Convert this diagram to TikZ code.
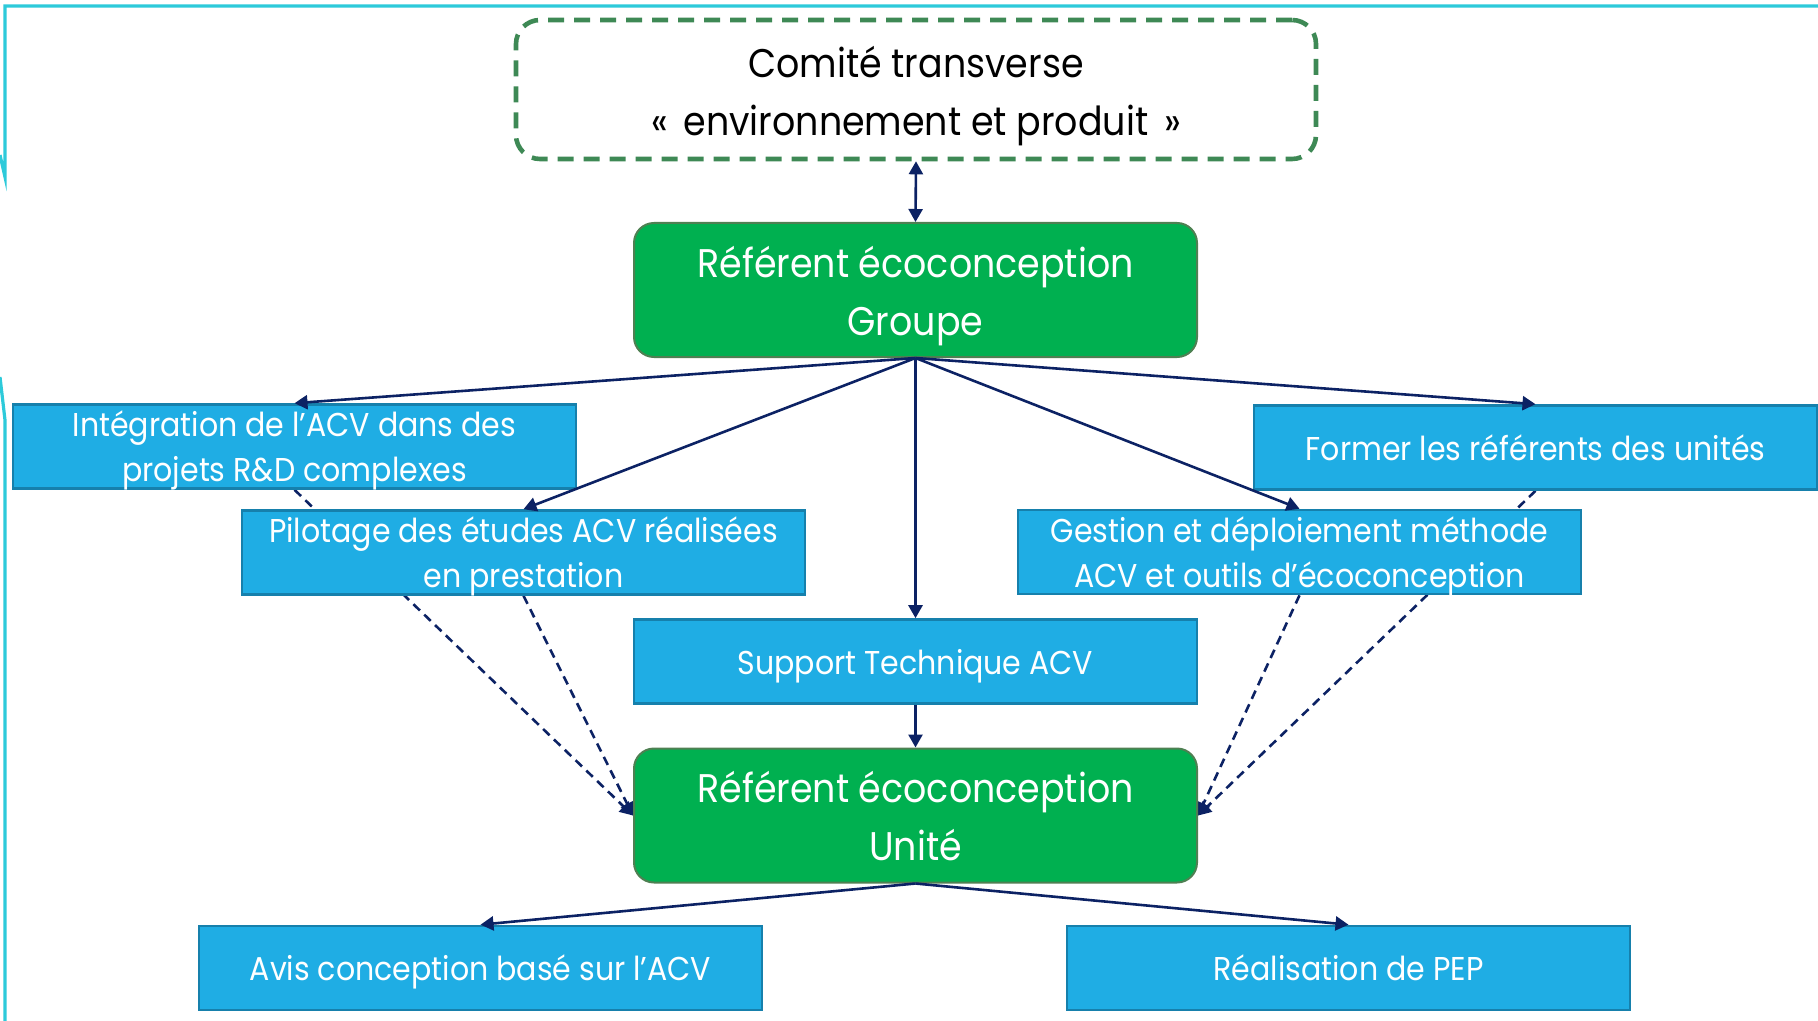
\documentclass[tikz,border=0pt]{standalone}
\usepackage{fontspec}
\setmainfont{Poppins}[FakeStretch=0.91]
\usetikzlibrary{arrows.meta}

\definecolor{framecyan}{RGB}{45,202,218}
\definecolor{navy}{RGB}{12,34,100}
\definecolor{boxblue}{RGB}{31,173,228}
\definecolor{boxblueline}{RGB}{22,128,172}
\definecolor{refgreen}{RGB}{0,176,80}
\definecolor{refgreenline}{RGB}{78,128,82}
\definecolor{comitegreen}{RGB}{62,137,85}

% line struts fixing where the text sits inside each box
\newcommand{\strutblue}{\rule[-5pt]{0pt}{22.5pt}}
\newcommand{\strutgreen}{\rule[-6.4pt]{0pt}{29pt}}
\newcommand{\strutcomite}{\rule[-5.8pt]{0pt}{28.8pt}}

\pgfdeclarelayer{bg}
\pgfsetlayers{bg,main}

\tikzset{
  bluebox/.style={rectangle, draw=boxblueline, line width=1.3pt, fill=boxblue,
    text=white, minimum width=281.5pt, minimum height=42pt, inner xsep=0pt,
    inner ysep=-3pt, align=center, font=\fontsize{16.5}{22.5}\selectfont},
  greenbox/.style={rectangle, rounded corners=10pt, draw=refgreenline, line width=1pt,
    fill=refgreen, text=white, minimum width=281.5pt, minimum height=67pt,
    inner sep=0pt, align=center, font=\fontsize{20}{29}\selectfont},
  dashbox/.style={rectangle, rounded corners=12pt, draw=comitegreen, line width=2.3pt,
    dash pattern=on 8pt off 5pt, minimum width=400pt, minimum height=69.5pt,
    inner sep=0pt, align=center, text=black, font=\fontsize{20}{29}\selectfont},
  link/.style={draw=navy, line width=1.3pt, -{Triangle[length=6.5pt,width=7pt]}},
  duallink/.style={draw=navy, line width=1.3pt,
    {Triangle[length=6.5pt,width=7pt]}-{Triangle[length=6.5pt,width=7pt]}},
  dashlink/.style={draw=navy, line width=1.3pt, dash pattern=on 4.5pt off 3pt,
    -{Triangle[length=6.5pt,width=7pt]}},
  frameline/.style={draw=framecyan, line width=1.6pt}
}

\begin{document}
\begin{tikzpicture}[x=0.5pt,y=-0.5pt]
\useasboundingbox (0,0) rectangle (1818,1021);

% slide frame
\draw[frameline] (0,155) -- (5,177) -- (5,6) -- (1818,6);
\draw[frameline] (0,377) -- (5,420) -- (5,1021);

% boxes
\node[dashbox] (comite) at (916,89.5)
  {\strutcomite Comité transverse\\\strutcomite«\hspace{3pt} environnement et produit \hspace{3pt}»};
\node[greenbox] (groupe) at (915.5,290)
  {\strutgreen Référent écoconception\\\strutgreen Groupe};
\node[bluebox] (integ) at (294.5,446.5)
  {\strutblue Intégration de l’ACV dans des\\\strutblue projets R\&D complexes};
\node[bluebox] (pilot) at (523.5,552.5)
  {\strutblue Pilotage des études ACV réalisées\\\strutblue en prestation};
\node[bluebox] (former) at (1535.5,447.5)
  {\strutblue Former les référents des unités};
\node[bluebox] (gestion) at (1299.5,552)
  {\strutblue Gestion et déploiement méthode\\\strutblue ACV et outils d’écoconception};
\node[bluebox] (support) at (915.5,661.5)
  {\strutblue Support Technique ACV};
\node[greenbox] (unite) at (915.5,815.5)
  {\strutgreen Référent écoconception\\\strutgreen Unité};
\node[bluebox] (avis) at (480.5,968)
  {\strutblue Avis conception basé sur l’ACV};
\node[bluebox] (pep) at (1348.5,968)
  {\strutblue Réalisation de PEP};

% solid links
\draw[duallink] (comite.south) -- (groupe.north);
\draw[link] (groupe.south) -- (integ.north);
\draw[link] (groupe.south) -- (pilot.north);
\draw[link] (groupe.south) -- (support.north);
\draw[link] (groupe.south) -- (gestion.north);
\draw[link] (groupe.south) -- (former.north);
\draw[link] (support.south) -- (unite.north);
\draw[link] (unite.south) -- (avis.north);
\draw[link] (unite.south) -- (pep.north);

% dashed links, passing under the boxes
\begin{pgfonlayer}{bg}
\draw[dashlink] (integ.south) -- (unite.west);
\draw[dashlink] (pilot.south) -- (unite.west);
\draw[dashlink] (former.south) -- (unite.east);
\draw[dashlink] (gestion.south) -- (unite.east);
\end{pgfonlayer}
\end{tikzpicture}
\end{document}
